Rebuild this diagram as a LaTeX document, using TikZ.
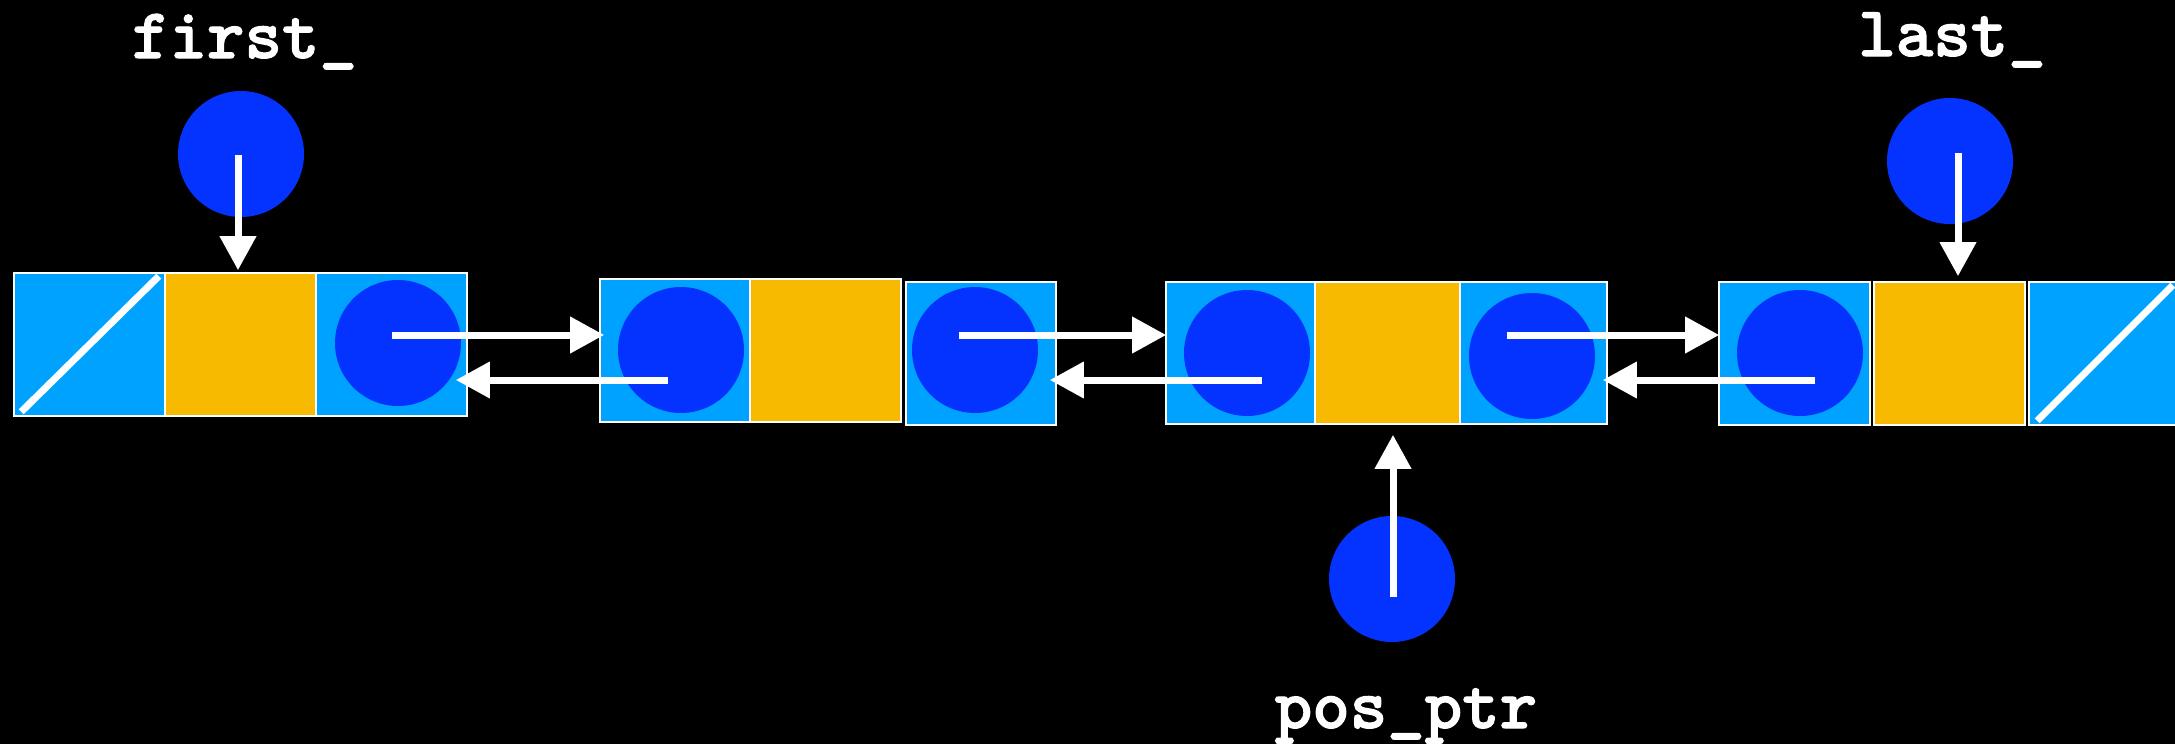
\documentclass[tikz,border=0pt]{standalone}
\usepackage{fontspec}
\newfontfamily\codefont{lmmonolt10-bold.otf}[FakeBold=1.6]
\usetikzlibrary{arrows.meta,calc}
\definecolor{cellblue}{RGB}{0,162,255}
\definecolor{cellyellow}{RGB}{248,186,0}
\definecolor{ptrblue}{RGB}{4,51,255}
\begin{document}
\begin{tikzpicture}[x=0.5pt,y=-0.5pt,
  cellbox/.style={draw=white, line width=0.8pt, fill=cellblue, inner sep=0pt, minimum height=71.5pt},
  datacell/.style={draw=white, line width=0.8pt, fill=cellyellow, inner sep=0pt, minimum height=71.5pt},
  ptrdot/.style={circle, fill=ptrblue, minimum size=63pt, inner sep=0pt},
  link/.style={draw=white, line width=3.5pt, -{Triangle[length=17pt,width=17.5pt]}},
  nullslash/.style={draw=white, line width=3.5pt},
  namelabel/.style={text=white, anchor=base, inner sep=0pt, font=\codefont\fontsize{35.7pt}{40pt}\selectfont}
]
\fill[black] (0,0) rectangle (2175,744);
\useasboundingbox (0,0) rectangle (2175,744);

% node 1
\node[cellbox, minimum width=75.5pt] (n1c1) at (89.5,344.5) {};
\node[datacell, minimum width=75.5pt] (n1c2) at (240.5,344.5) {};
\node[cellbox, minimum width=75.5pt] (n1c3) at (391.5,344.5) {};
% node 2
\node[cellbox, minimum width=75pt] (n2c1) at (675,350.5) {};
\node[datacell, minimum width=75.5pt] (n2c2) at (825.5,350.5) {};
\node[cellbox, minimum width=75pt] (n2c3) at (981,353.5) {};
% node 3
\node[cellbox, minimum width=74.5pt, minimum height=71pt] (n3c1) at (1240.5,353) {};
\node[datacell, minimum width=72.5pt, minimum height=71pt] (n3c2) at (1387.5,353) {};
\node[cellbox, minimum width=73.5pt, minimum height=71pt] (n3c3) at (1533.5,353) {};
% node 4
\node[cellbox, minimum width=75.5pt] (n4c1) at (1794.5,353.5) {};
\node[datacell, minimum width=75.5pt] (n4c2) at (1949.5,353.5) {};
\node[cellbox, minimum width=75.5pt] (n4c3) at (2104.5,353.5) {};

% null slashes
\draw[nullslash] ($(n1c1.south west)+(8,-5)$) -- ($(n1c1.north east)+(-7,4)$);
\draw[nullslash] ($(n4c3.south west)+(9,-5)$) -- ($(n4c3.north east)+(-8,4)$);

% pointer dots inside cells
\node[ptrdot] (n1p) at (398,343) {};
\node[ptrdot] (n2p) at (681,350) {};
\node[ptrdot] (n2n) at (975,350) {};
\node[ptrdot] (n3p) at (1247,353) {};
\node[ptrdot] (n3n) at (1532,356) {};
\node[ptrdot] (n4p) at (1800,353) {};

% external pointers
\node[ptrdot] (fp) at (241,154) {};
\node[ptrdot] (lp) at (1950,161) {};
\node[ptrdot] (pp) at (1392,579) {};

\node[namelabel] (fl) at (244.5,58) {first\_};
\node[namelabel] (ll) at (1952,56) {last\_};
\node[namelabel] (pl) at (1406,728) {pos\_ptr};

% links
\draw[link] ($(fp.center)+(-3,1)$) -- ($(n1c2.north)+(-2.5,-2)$);
\draw[link] ($(lp.center)+(8,-8)$) -- ($(n4c2.north)+(8.5,-5)$);
\draw[link] ($(pp.center)+(1,18)$) -- ($(n3c2.south)+(5.5,10)$);

\draw[link] ($(n1p.center)+(-6,-8)$) -- ($(n2c1.west)+(5,-15.5)$);
\draw[link] ($(n2p.center)+(-13,30)$) -- ($(n1c3.east)+(-12,35.5)$);
\draw[link] ($(n2n.center)+(-16,-15)$) -- ($(n3c1.west)+(1,-18)$);
\draw[link] ($(n3p.center)+(15,27)$) -- ($(n2c3.east)+(-7,26.5)$);
\draw[link] ($(n3n.center)+(-25,-21)$) -- ($(n4c1.west)+(1,-18.5)$);
\draw[link] ($(n4p.center)+(15,27)$) -- ($(n3c3.east)+(-5,27)$);
\end{tikzpicture}
\end{document}
